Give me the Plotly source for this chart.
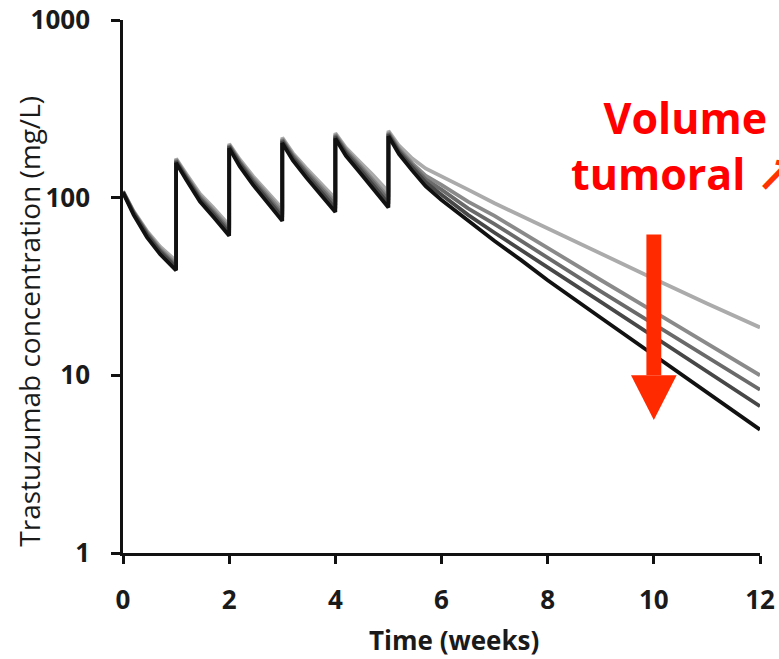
import math
import plotly.graph_objects as go

# Sampling times (weeks); repeated times mark the instantaneous rise at each weekly dose
weeks = [0, 0.2, 0.45, 0.7, 1,
         1, 1.2, 1.45, 1.7, 2,
         2, 2.2, 2.45, 2.7, 3,
         3, 3.2, 3.45, 3.7, 4,
         4, 4.2, 4.45, 4.7, 5,
         5, 5.2, 5.45, 5.7, 6, 6.5, 7, 7.5, 8, 9, 10, 11, 12]

# Trastuzumab concentration (mg/L), one profile per tumour volume (small -> large)
conc_v1 = [109, 84, 65, 53, 44,
           166, 135, 105, 88, 70,
           201, 164, 132, 110, 87,
           218, 178, 147, 123, 99,
           231, 191, 160, 135, 108,
           238, 196, 166, 146, 132, 111, 93, 79, 66.5, 48.5, 35, 25.4, 18.6]
conc_v2 = [108, 83, 64, 51.5, 42.5,
           164, 132, 102, 85, 67.5,
           198, 160, 128, 106, 83.5,
           214, 174, 142, 118, 94.5,
           227, 186, 154, 127, 101,
           233, 189, 156, 133, 118, 95, 79, 64, 52, 34.4, 22.8, 15, 10]
conc_v3 = [108, 82.5, 63, 50.5, 41.5,
           162, 130, 100, 83, 65.5,
           196, 158, 125, 103, 80.5,
           211, 171, 139, 115, 91,
           224, 182, 150, 123, 97,
           230, 185, 152, 127, 111, 87, 71, 57, 46, 29.7, 19.4, 12.7, 8.3]
conc_v4 = [108, 82, 62, 49.5, 40.5,
           160, 128, 98, 81, 63.5,
           194, 155, 122, 100, 77.5,
           208, 167, 135, 111, 87,
           220, 178, 146, 118, 92.5,
           227, 181, 148, 122, 104, 80, 63.5, 51, 40.5, 25.9, 16.5, 10.5, 6.7]
conc_v5 = [107, 80, 60, 48, 39,
           157, 125, 95, 78, 61,
           190, 150, 118, 96, 74,
           203, 162, 130, 106, 83,
           215, 172, 140, 113, 88,
           222, 176, 142, 116, 97, 74, 57, 44.5, 34.3, 21.1, 13, 8.0, 4.95]

series = [conc_v1, conc_v2, conc_v3, conc_v4, conc_v5]
grays = ["#ababab", "#8a8a8a", "#6a6a6a", "#474747", "#111111"]

x_ticks = [0, 2, 4, 6, 8, 10, 12]
y_ticks = [1, 10, 100, 1000]

fig = go.Figure()
for conc, col in zip(series, grays):
    fig.add_trace(go.Scatter(
        x=weeks, y=conc, mode="lines",
        line=dict(color=col, width=3.8),
        showlegend=False, hoverinfo="skip",
    ))

ink = "#1a1a1a"
tick_font = dict(family="Open Sans", size=26, color=ink, weight="bold")

fig.update_xaxes(
    range=[0, 12], tickvals=x_ticks, ticktext=[str(v) for v in x_ticks],
    showline=True, linecolor="#111111", linewidth=2.5,
    ticks="outside", ticklen=8, tickwidth=2.5, tickcolor="#111111",
    showgrid=False, zeroline=False, tickfont=tick_font,
    ticklabelstandoff=14, automargin=False,
)
fig.update_yaxes(
    type="log", range=[0, 3], tickvals=y_ticks, ticktext=[str(v) for v in y_ticks],
    showline=True, linecolor="#111111", linewidth=2.5,
    ticks="outside", ticklen=9, tickwidth=2.5, tickcolor="#111111",
    showgrid=False, zeroline=False, tickfont=tick_font,
    ticklabelstandoff=16, automargin=False,
)

# Axis titles
fig.add_annotation(
    xref="paper", yref="paper", x=0.52, y=0, yshift=-87,
    text="Time (weeks)", showarrow=False, xanchor="center", yanchor="middle",
    font=dict(family="Open Sans", size=26, color=ink, weight="bold"),
)
fig.add_annotation(
    xref="paper", yref="paper", x=0, xshift=-94, y=0.434,
    text="Trastuzumab concentration (mg/L)", textangle=-90, showarrow=False,
    xanchor="center", yanchor="middle",
    font=dict(family="Open Sans", size=28, color=ink),
)

# Red downward arrow at week 10 (shaft + head), heights in paper fractions
arrow_x = 10.0
shaft_half = 0.14
head_half = 0.43
shaft_top = math.log10(62) / 3
head_base = math.log10(10) / 3
tip = math.log10(5.6) / 3
arrow_col = "#ff2a00"
fig.add_shape(type="rect", xref="x", yref="paper",
              x0=arrow_x - shaft_half, x1=arrow_x + shaft_half,
              y0=head_base, y1=shaft_top,
              fillcolor=arrow_col, line=dict(width=0), layer="above")
fig.add_shape(type="path", xref="x", yref="paper",
              path=(f"M {arrow_x - head_half} {head_base} "
                    f"L {arrow_x + head_half} {head_base} "
                    f"L {arrow_x} {tip} Z"),
              fillcolor=arrow_col, line=dict(width=0), layer="above")

fig.add_annotation(
    xref="x", yref="paper", x=10.6, y=0.765,
    text=('Volume<br>tumoral <span style="color:#ff3300;'
          'font-family:\'Noto Sans CJK SC\';font-weight:900">↗</span>'),
    showarrow=False, xanchor="center", yanchor="middle", align="center",
    font=dict(family="Open Sans", size=43, color="#ff0000", weight="bold"),
)

fig.update_layout(
    width=779, height=659,
    margin=dict(l=123, r=19, t=20, b=106, autoexpand=False),
    paper_bgcolor="white", plot_bgcolor="white",
)

fig.write_html("out.html")
